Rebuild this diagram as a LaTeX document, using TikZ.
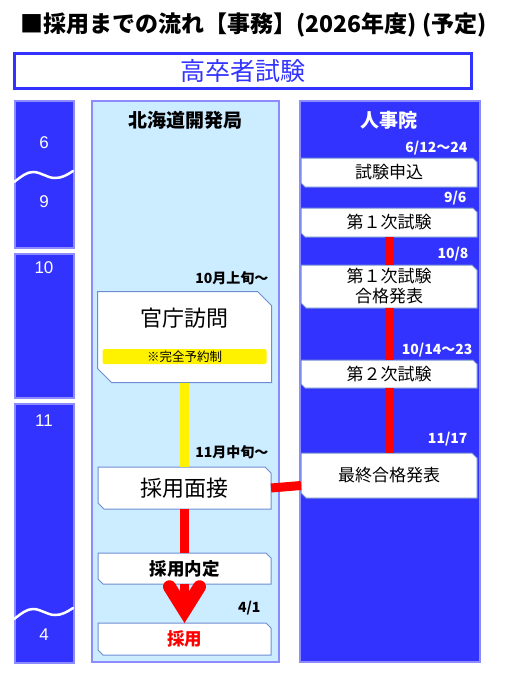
\documentclass[tikz,border=0pt]{standalone}
\usepackage{fontspec}
\setmainfont{Noto Sans CJK JP}
\newfontfamily\numfont{Liberation Sans}
\usetikzlibrary{arrows.meta}
\definecolor{zblue}{RGB}{51,51,255}
\definecolor{zedge}{RGB}{140,140,255}
\definecolor{zpale}{RGB}{204,236,255}
\definecolor{zline}{RGB}{110,140,210}
\pgfdeclarelayer{back}
\pgfdeclarelayer{mid}
\pgfsetlayers{back,mid,main}
\newcommand{\fs}[1]{\fontsize{#1}{#1}\selectfont}
\newcommand{\chamfer}[2]{\filldraw[boxline] (#1.north west) -- ([xshift=-#2]#1.north east) -- ([yshift=-#2]#1.north east) -- (#1.south east) -- ([xshift=#2]#1.south west) -- ([yshift=#2]#1.south west) -- cycle;}
\tikzset{
	panel/.style={draw=zedge, line width=1.5pt, anchor=north west, inner sep=0pt},
	month/.style={text=white, font=\numfont\fs{17}},
	stepbox/.style={rectangle, inner sep=0pt, outer sep=0pt},
	boxline/.style={draw=zline, line width=1pt, fill=white},
	when/.style={anchor=east, font=\bfseries\fs{14}},
	redline/.style={draw=red, line width=9pt},
	wave/.style={draw=white, line width=2.5pt, line cap=round},
}
\begin{document}
\begin{tikzpicture}[x=1pt, y=-1pt]
	\useasboundingbox (0,0) rectangle (508,680);
	\node[anchor=west, font=\bfseries\fs{23}] (title) at (17,25) {■採用までの流れ【事務】(2026年度) (予定)};
	\node[draw=zblue, line width=3pt, minimum width=457pt, minimum height=35pt, text=zblue, font=\fs{25}] (exam) at (243,71) {高卒者試験};
	\begin{pgfonlayer}{back}
	\foreach \top/\bot [count=\i] in {100/247, 253/397, 403/662}
		\node[panel, fill=zblue, minimum width=59pt, minimum height=\bot-\top] (bar\i) at (14,\top) {};
	\node[panel, fill=zpale, minimum width=187pt, minimum height=561pt] (kyoku) at (91,100) {};
	\node[panel, fill=zblue, minimum width=180pt, minimum height=561pt] (jinji) at (299,100) {};
	\end{pgfonlayer}
	\foreach \dy in {0, 437}
		\draw[wave, shift={(0,\dy)}] (14,182) .. controls (22,176) and (27,172) .. (33,172) .. controls (41,172) and (47,178) .. (55,178) .. controls (62,178) and (67,175) .. (73,171);
	\foreach \m/\y in {6/143, 9/202, 10/268, 11/421, 4/635}
		\node[month] (m\m) at (44,\y) {\m};
	\node[font=\bfseries\fs{19}] (kyokuhead) at (185,120) {北海道開発局};
	\node[font=\bfseries\fs{19}, text=white] (jinjihead) at (389,120) {人事院};
	\node[stepbox, minimum width=174pt, minimum height=91pt] (houmon) at (184.5,337) {};
	\node[font=\fs{22}] (houmontext) at (184.5,318) {官庁訪問};
	\node[fill=yellow, rounded corners=1.5pt, minimum width=164pt, minimum height=15pt, inner sep=0pt, font=\fs{12.5}] (yoyaku) at (184.5,356.5) {※完全予約制};
	\node[stepbox, minimum width=173pt, minimum height=42pt, font=\fs{22}] (mensetsu) at (184.5,488) {採用面接};
	\node[stepbox, minimum width=173pt, minimum height=31pt, font=\bfseries\fs{17.5}] (naitei) at (184.5,568.5) {採用内定};
	\node[stepbox, minimum width=173pt, minimum height=32pt, font=\bfseries\fs{17.5}, text=red] (saiyo) at (184.5,639) {採用};
	\node[stepbox, minimum width=176pt, minimum height=29pt, font=\fs{17}] (moushikomi) at (389,172.5) {試験申込};
	\node[stepbox, minimum width=176pt, minimum height=29pt, font=\fs{17}] (ichiji) at (389,222.5) {第１次試験};
	\node[stepbox, minimum width=176pt, minimum height=43pt, font=\fs{17}, align=center] (goukaku) at (389,286.5) {第１次試験\\[3pt]合格発表};
	\node[stepbox, minimum width=176pt, minimum height=28pt, font=\fs{17}] (niji) at (389,374) {第２次試験};
	\node[stepbox, minimum width=176pt, minimum height=45pt, font=\fs{17}] (saishu) at (389,475.5) {最終合格発表};
	\begin{pgfonlayer}{mid}
	\foreach \n/\c in {houmon/14pt, mensetsu/6pt, naitei/5pt, saiyo/5pt, moushikomi/4pt, ichiji/4pt, goukaku/5pt, niji/4pt, saishu/5pt}
		{\chamfer{\n}{\c}}
	\end{pgfonlayer}
	\node[when] (d1) at (272,278) {10月上旬～};
	\node[when] (d2) at (272,452) {11月中旬～};
	\node[when] (d3) at (264,608) {4/1};
	\node[when, text=white] (d4) at (471,148) {6/12～24};
	\node[when, text=white] (d5) at (470,198) {9/6};
	\node[when, text=white] (d6) at (472,254) {10/8};
	\node[when, text=white] (d7) at (476,350) {10/14～23};
	\node[when, text=white] (d8) at (471,439) {11/17};
	\draw[draw=yellow, line width=9pt] (houmon.south) -- (mensetsu.north);
	\draw[redline] (mensetsu.south) -- (naitei.north);
	\draw[redline] (mensetsu.east) -- ([yshift=-10pt]saishu.west);
	\draw[redline] (ichiji.south) -- (goukaku.north);
	\draw[redline] (goukaku.south) -- (niji.north);
	\draw[redline] (niji.south) -- (saishu.north);
	\draw[redline, -{Straight Barb[line width=13pt, length=24pt, width=30pt, line cap=round, line join=miter]}] (naitei.south) -- (saiyo.north);
\end{tikzpicture}
\end{document}
